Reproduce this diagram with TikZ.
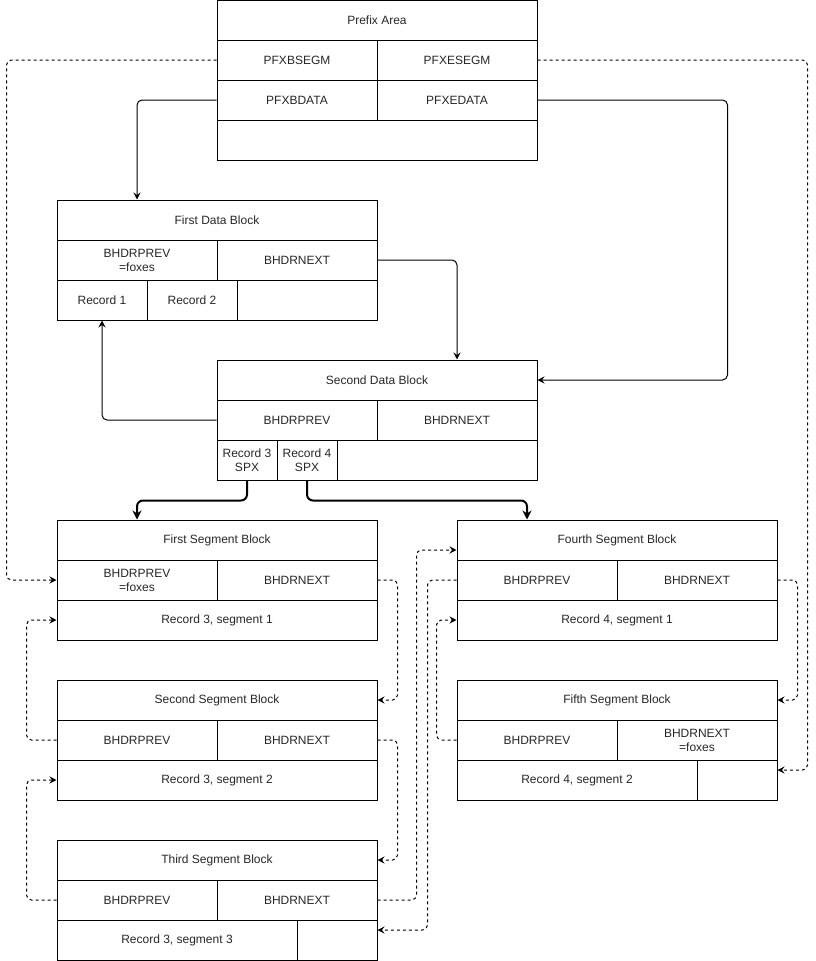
\documentclass[tikz,border=0pt]{standalone}
\usepackage{fontspec}
\setmainfont{Liberation Sans}
\usetikzlibrary{arrows.meta}
\newcommand{\mkcell}[6]{%
  \pgfmathsetmacro{\cellw}{#4-#2}%
  \pgfmathsetmacro{\cellh}{#5-#3}%
  \node[cell, minimum width=\cellw pt, minimum height=\cellh pt] (#1) at ({(#2+#4)/2},{(#3+#5)/2}) {#6};}
\tikzset{
  cell/.style={draw=black, line width=1pt, rectangle, inner sep=0pt, align=center,
    text=black!85, font=\fontsize{12}{14}\selectfont},
  conn/.style={draw=black, line width=1pt, rounded corners=5pt,
    -{Stealth[length=7pt,width=7pt,inset=2.5pt]}},
  thickconn/.style={draw=black, line width=2pt, rounded corners=6pt,
    -{Stealth[length=9pt,width=9pt,inset=3pt]}},
  dconn/.style={conn, dash pattern=on 3pt off 3pt},
}
\begin{document}
\begin{tikzpicture}[x=1pt,y=-1pt]
\useasboundingbox (0,0) rectangle (816,961);
% Prefix area
\mkcell{preT}{217}{0}{537}{40}{Prefix Area}
\mkcell{pbseg}{217}{40}{377}{80}{PFXBSEGM}
\mkcell{peseg}{377}{40}{537}{80}{PFXESEGM}
\mkcell{pbdata}{217}{80}{377}{120}{PFXBDATA}
\mkcell{pedata}{377}{80}{537}{120}{PFXEDATA}
\mkcell{preE}{217}{120}{537}{160}{}
% First data block
\mkcell{fdT}{57}{200}{377}{240}{First Data Block}
\mkcell{fdP}{57}{240}{217}{280}{BHDRPREV\\=foxes}
\mkcell{fdN}{217}{240}{377}{280}{BHDRNEXT}
\mkcell{fdRa}{57}{280}{147}{320}{Record 1}
\mkcell{fdRb}{147}{280}{237}{320}{Record 2}
\mkcell{fdE}{237}{280}{377}{320}{}
% Second data block
\mkcell{sdT}{217}{360}{537}{400}{Second Data Block}
\mkcell{sdP}{217}{400}{377}{440}{BHDRPREV}
\mkcell{sdN}{377}{400}{537}{440}{BHDRNEXT}
\mkcell{sdRc}{217}{440}{277}{480}{Record 3\\SPX}
\mkcell{sdRd}{277}{440}{337}{480}{Record 4\\SPX}
\mkcell{sdE}{337}{440}{537}{480}{}
% First segment block
\mkcell{saT}{57}{520}{377}{560}{First Segment Block}
\mkcell{saP}{57}{560}{217}{600}{BHDRPREV\\=foxes}
\mkcell{saN}{217}{560}{377}{600}{BHDRNEXT}
\mkcell{saR}{57}{600}{377}{640}{Record 3, segment 1}
% Second segment block
\mkcell{sbT}{57}{680}{377}{720}{Second Segment Block}
\mkcell{sbP}{57}{720}{217}{760}{BHDRPREV}
\mkcell{sbN}{217}{720}{377}{760}{BHDRNEXT}
\mkcell{sbR}{57}{760}{377}{800}{Record 3, segment 2}
% Third segment block
\mkcell{scT}{57}{840}{377}{880}{Third Segment Block}
\mkcell{scP}{57}{880}{217}{920}{BHDRPREV}
\mkcell{scN}{217}{880}{377}{920}{BHDRNEXT}
\mkcell{scR}{57}{920}{297}{960}{Record 3, segment 3}
\mkcell{scE}{297}{920}{377}{960}{}
% Fourth segment block
\mkcell{sdaT}{457}{520}{777}{560}{Fourth Segment Block}
\mkcell{sdaP}{457}{560}{617}{600}{BHDRPREV}
\mkcell{sdaN}{617}{560}{777}{600}{BHDRNEXT}
\mkcell{sdaR}{457}{600}{777}{640}{Record 4, segment 1}
% Fifth segment block
\mkcell{seT}{457}{680}{777}{720}{Fifth Segment Block}
\mkcell{seP}{457}{720}{617}{760}{BHDRPREV}
\mkcell{seN}{617}{720}{777}{760}{BHDRNEXT\\=foxes}
\mkcell{seR}{457}{760}{697}{800}{Record 4, segment 2}
\mkcell{seE}{697}{760}{777}{800}{}
% solid connectors
\draw[conn] (pbdata.west) -| ([xshift=-80pt]fdT.north);
\draw[conn] (pedata.east) -| ([xshift=190pt]sdT.east) -- (sdT.east);
\draw[conn] (fdN.east) -| ([xshift=80pt]sdT.north);
\draw[conn] (sdP.west) -| (fdRa.south);
\draw[thickconn] (sdRc.south) -- ([yshift=-20pt]sdRc.south) -| ([xshift=-80pt]saT.north);
\draw[thickconn] (sdRd.south) -- ([yshift=-20pt]sdRd.south) -| ([xshift=-90pt]sdaT.north);
% dashed connectors
\draw[dconn] (pbseg.west) -| ([xshift=-50pt]saP.west) -- (saP.west);
\draw[dconn] (peseg.east) -| ([xshift=30pt,yshift=10pt]seE.east) -- ([yshift=10pt]seE.east);
\draw[dconn] (saN.east) -| ([xshift=20pt]sbT.east) -- (sbT.east);
\draw[dconn] (sbP.west) -| ([xshift=-30pt]saR.west) -- (saR.west);
\draw[dconn] (sbN.east) -| ([xshift=20pt]scT.east) -- (scT.east);
\draw[dconn] (scP.west) -| ([xshift=-30pt]sbR.west) -- (sbR.west);
\draw[dconn] (scN.east) -| ([xshift=-40pt,yshift=-10pt]sdaT.west) -- ([yshift=-10pt]sdaT.west);
\draw[dconn] (sdaP.west) -| ([xshift=50pt,yshift=10pt]scE.east) -- ([yshift=10pt]scE.east);
\draw[dconn] (sdaN.east) -| ([xshift=20pt]seT.east) -- (seT.east);
\draw[dconn] (seP.west) -| ([xshift=-20pt]sdaR.west) -- (sdaR.west);
\end{tikzpicture}
\end{document}
